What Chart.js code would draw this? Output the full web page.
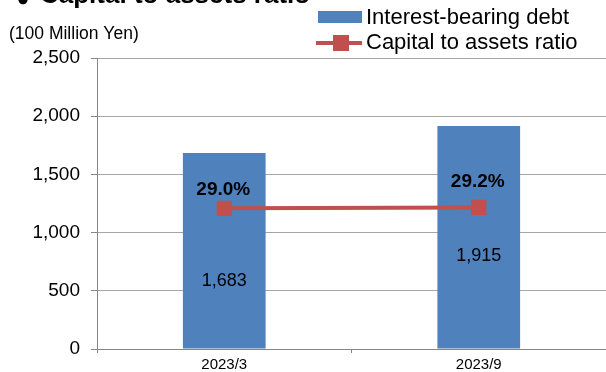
<!DOCTYPE html>
<html>
<head>
<meta charset="utf-8">
<script src="https://cdn.jsdelivr.net/npm/chart.js@4/dist/chart.umd.min.js"></script>
<style>
  html, body { margin: 0; padding: 0; background: #fff; }
  #wrap { width: 606px; height: 372px; position: relative; }
</style>
</head>
<body>
<div id="wrap"><canvas id="c" width="606" height="372"></canvas></div>
<script>
// Periods and values
const periods = ['2023/3', '2023/9'];
const debt = [1683, 1915];            // Interest-bearing debt (100 Million Yen)
const capitalRatio = [29.0, 29.2];    // Capital to assets ratio (%)
const yTicks = [0, 500, 1000, 1500, 2000, 2500];

const FONT = '"Liberation Sans", Arial, sans-serif';
const BLUE = '#4f81bd';
const RED = '#c0504d';

const fmt = v => v.toLocaleString('en-US');

// Title, unit caption, legend and value labels
const decorations = {
  id: 'decorations',
  afterDatasetsDraw(chart) {
    const ctx = chart.ctx;
    ctx.save();
    // heading (sits at the very top edge)
    ctx.fillStyle = '#000';
    ctx.textBaseline = 'alphabetic';
    ctx.textAlign = 'center';
    ctx.font = 'bold 12px "DejaVu Sans", sans-serif';
    ctx.fillText('\u25CF', 23, 3);
    ctx.textAlign = 'left';
    ctx.font = 'bold 26px ' + FONT;
    ctx.fillText('Capital to assets ratio', 40, 3);

    // unit caption
    ctx.font = '17.5px ' + FONT;
    ctx.textBaseline = 'middle';
    ctx.fillText('(100 Million Yen)', 9, 34);

    // legend
    const ds = chart.data.datasets;
    ctx.fillStyle = BLUE;
    ctx.fillRect(318, 11, 44, 12);
    ctx.strokeStyle = RED;
    ctx.lineWidth = 4;
    ctx.beginPath(); ctx.moveTo(316, 43); ctx.lineTo(362, 43); ctx.stroke();
    ctx.fillStyle = RED;
    ctx.fillRect(333, 35, 16, 16);
    ctx.fillStyle = '#000';
    ctx.font = '22px ' + FONT;
    ctx.textBaseline = 'middle';
    ctx.fillText(ds[0].label, 366, 18);
    ctx.fillText(ds[1].label, 366, 43);

    // bar value labels
    const barMeta = chart.getDatasetMeta(0);
    const barOffsets = [30, 19];
    ctx.font = '18px ' + FONT;
    ctx.textAlign = 'center';
    barMeta.data.forEach((bar, i) => {
      const mid = (bar.y + bar.base) / 2;
      ctx.fillText(fmt(debt[i]), bar.x, mid + barOffsets[i]);
    });

    // ratio labels
    const lineMeta = chart.getDatasetMeta(1);
    const ratioOffsets = [-19, -26];
    ctx.font = 'bold 19px ' + FONT;
    lineMeta.data.forEach((pt, i) => {
      ctx.fillText(capitalRatio[i].toFixed(1) + '%', pt.x - 1, pt.y + ratioOffsets[i]);
    });
    ctx.restore();
  }
};

new Chart(document.getElementById('c'), {
  data: {
    labels: periods,
    datasets: [
      {
        type: 'bar',
        label: 'Interest-bearing debt',
        data: debt,
        backgroundColor: BLUE,
        borderWidth: 0,
        yAxisID: 'y',
        categoryPercentage: 1,
        barPercentage: 0.325,
        order: 2
      },
      {
        type: 'line',
        label: 'Capital to assets ratio',
        data: capitalRatio,
        borderColor: RED,
        backgroundColor: RED,
        borderWidth: 4,
        pointStyle: 'rect',
        pointRadius: 8,
        pointHoverRadius: 8,
        yAxisID: 'y2',
        order: 1
      }
    ]
  },
  options: {
    responsive: false,
    animation: false,
    events: [],
    layout: { autoPadding: false, padding: { top: 58, right: 0, left: 0, bottom: 0 } },
    plugins: {
      legend: { display: false },
      tooltip: { enabled: false },
      title: { display: false }
    },
    scales: {
      x: {
        offset: true,
        grid: {
          offset: true,
          drawOnChartArea: false,
          drawTicks: true,
          tickLength: 4,
          color: '#868686'
        },
        border: { color: '#868686', width: 1 },
        ticks: {
          color: '#000',
          font: { family: FONT, size: 15 },
          padding: 3
        },
        afterFit(scale) {
          scale.height = 23;
          scale.paddingLeft = 0;
          scale.paddingRight = 0;
        }
      },
      y: {
        min: 0,
        max: 2500,
        afterBuildTicks(scale) { scale.ticks = yTicks.map(v => ({ value: v })); },
        grid: {
          color: '#a6a6a6',
          lineWidth: 1,
          tickLength: 6,
          tickColor: '#868686'
        },
        border: { color: '#868686', width: 1 },
        ticks: {
          color: '#000',
          font: { family: FONT, size: 19 },
          padding: 11,
          callback: v => fmt(v)
        },
        afterFit(scale) {
          scale.width = 97;
          scale.paddingTop = 0;
          scale.paddingBottom = 0;
        }
      },
      y2: {
        display: false,
        min: 0,
        max: 60
      }
    }
  },
  plugins: [decorations]
});
</script>
</body>
</html>
